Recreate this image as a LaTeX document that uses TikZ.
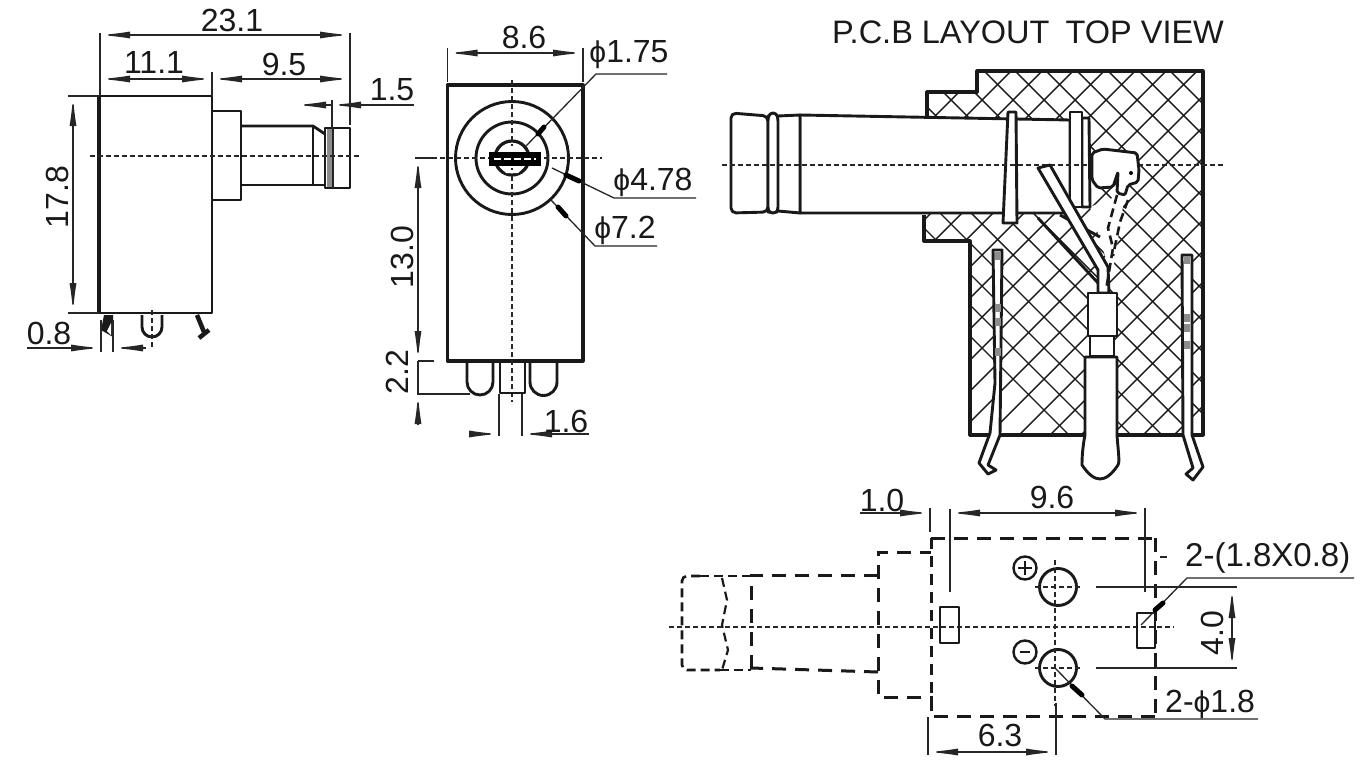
\documentclass[tikz,border=0pt]{standalone}
\usepackage{fontspec}
\setmainfont{Liberation Sans}
\usetikzlibrary{arrows.meta}
\newcommand{\dimfnt}{\fontsize{32}{32}\selectfont}
\newcommand{\phisym}{{\fontsize{30}{30}\selectfont ϕ}}
\tikzset{
 x=1pt,y=-1pt,
 lab/.style={font=\dimfnt,inner sep=0pt,text=black!90},
 part/.style={line width=2.9pt,line join=round,draw=black!90},
 heavy/.style={line width=3.8pt,line join=round,draw=black!90},
 thin/.style={line width=1.3pt,draw=black!85},
 dimline/.style={line width=1.3pt,draw=black!85},
 dimboth/.style={dimline,{Latex[length=30pt,width=7pt]}-{Latex[length=30pt,width=7pt]}},
 dimto/.style={dimline,-{Latex[length=30pt,width=7pt]}},
 centre/.style={line width=1.2pt,draw=black!85,dash pattern=on 5pt off 3pt},
 hatch/.style={line width=1.4pt,draw=black!90},
 blob/.style={line width=5pt,line cap=round,draw=black},
 dashy/.style={line width=3pt,draw=black!90,dash pattern=on 14pt off 9pt},
 dashyfine/.style={line width=2.6pt,draw=black!90,dash pattern=on 9pt off 5pt},
}
\begin{document}
\begin{tikzpicture}
\useasboundingbox (0,0) rectangle (1368,768);
\fill[white] (0,0) rectangle (1368,768);

%% ---------- side view ----------
\draw[part,fill=white] (99,96) rectangle (212,313);
\draw[heavy] (99,96) -- (99,313);
\draw[part] (212,111) -- (241,111) -- (241,200) -- (212,200);
\draw[part] (241,126) -- (313,126) -- (325,134);
\draw[part] (241,185) -- (325,185);
\draw[part] (313,126) -- (313,185);
\fill[black!45] (327,129) rectangle (332,187);
\draw[part] (325,128) rectangle (350,188);
\draw[thin] (333,128) -- (333,188);
\draw[centre] (90,156) -- (360,156);
\fill[black!90] (104,315) -- (113,315) -- (113,337) -- (101,330) -- cycle;
\fill[white] (107,331) -- (111,323) -- (111,335) -- cycle;
\draw[part] (142,315) -- (142,327) arc[start angle=180,end angle=0,radius=10] -- (162,315);
\draw[centre] (152,310) -- (152,348);
\draw[heavy,line width=4.5pt] (197,315) -- (204,332);
\draw[heavy,line width=4.5pt] (199,338) -- (209,330);

\draw[dimline] (100,33) -- (100,96);
\draw[dimline] (350,33) -- (350,125);
\draw[dimline] (212,72) -- (212,96);
\draw[dimboth] (100,35) -- (350,35);
\node[lab] (d231) at (232,20) {23.1};
\draw[dimboth] (100,79) -- (212,79);
\node[lab] (d111) at (154,62) {11.1};
\draw[dimboth] (212,79) -- (350,79);
\node[lab] (d95) at (284,64) {9.5};
\coordinate (p15a) at (296,105);
\coordinate (p15b) at (331,105);
\coordinate (p15c) at (375,105);
\draw[dimline,{Latex[length=30pt,width=7pt]}-] (p15a) -- (p15b);
\draw[dimto] (p15c) -- (p15b);
\draw[dimline] (p15c) -- (414,105);
\draw[dimline] (332,100) -- (332,128);
\node[lab] (d15) at (392,90) {1.5};
\draw[dimline] (68,96) -- (99,96);
\draw[dimline] (68,313) -- (99,313);
\draw[dimboth] (73,96) -- (73,313);
\node[lab,rotate=90] (d178) at (57,197) {17.8};
\draw[dimline] (101,320) -- (101,352);
\draw[dimline] (113,320) -- (113,352);
\draw[dimline] (27,348) -- (68,348);
\draw[dimto] (68,348) -- (101,348);
\draw[dimto] (146,348) -- (113,348);
\node[lab] (d08) at (49,333) {0.8};

%% ---------- front view ----------
\draw[part,line width=3.2pt,fill=white] (447.5,85) rectangle (583,361);
\draw[part] (512,158) circle[radius=56.5];
\draw[part] (512,158) circle[radius=36];
\draw[part,line width=3.2pt] (512,158) circle[radius=17];
\draw[centre] (512,80) -- (512,402);
\draw[centre] (432,158) -- (602,158);
\fill[black] (489,152) rectangle (541,166);
\draw[line width=2pt,white,dash pattern=on 7pt off 3pt] (494,159) -- (536,159);
\fill[white] (503,146) -- (521,146) -- (519,150) -- (505,150) -- cycle;
\fill[white] (503,170) -- (521,170) -- (518,173) -- (506,173) -- cycle;
\draw[part] (467,363) -- (467,382) arc[start angle=180,end angle=0,radius=13] -- (493,363);
\draw[part] (530,363) -- (530,382) arc[start angle=180,end angle=0,radius=13.5] -- (557,363);
\draw[part] (500,363) -- (500,393) -- (525,393) -- (525,363);
\draw[dimline] (447.5,48) -- (447.5,82);
\draw[dimline] (583,48) -- (583,82);
\draw[dimboth] (447.5,53) -- (583,53);
\node[lab] (d86) at (524,37) {8.6};
\node[lab] (d175) at (629,55) {\phisym 1.75};
\draw[dimline] (667,74) -- (596,74) -- (526,146);
\draw[blob] (538,134) -- (544,127);
\node[lab] (d478) at (653,182) {\phisym 4.78};
\draw[dimline] (696,198) -- (614,198) -- (552,168);
\draw[blob] (566,175) -- (579,181);
\node[lab] (d72) at (625,230) {\phisym 7.2};
\draw[dimline] (657,246) -- (595,246) -- (550,199);
\draw[blob] (558,207) -- (566,216);
\draw[dimline] (415,158) -- (435,158);
\draw[dimline] (418,361) -- (434,361);
\draw[dimline] (417,394) -- (470,394);
\draw[dimboth] (418,158) -- (418,361);
\node[lab,rotate=90] (d130) at (402,257) {13.0};
\draw[dimto] (418,425) -- (418,394);
\draw[dimline] (418,394) -- (418,361);
\node[lab,rotate=90] (d22) at (397,372) {2.2};
\draw[dimline] (499,394) -- (499,436);
\draw[dimline] (522,394) -- (522,436);
\draw[dimto] (472,434) -- (499,434);
\draw[dimto] (547,434) -- (522,434);
\draw[dimline] (547,434) -- (589,434);
\node[lab] (d16) at (566,421) {1.6};

%% ---------- section view ----------
\node[lab,anchor=base west,font=\fontsize{32.5}{33}\selectfont] (title) at (832,44) {P.C.B LAYOUT\hspace{7pt} TOP VIEW};
\begin{scope}
 \clip (977,71) -- (1203,71) -- (1203,435) -- (970,435) -- (970,241) -- (924,241) -- (924,215) -- (927,118) -- (927,92) -- (977,92) -- cycle;
 \foreach \k in {0,...,40} {
   \draw[hatch] (634+\k*31,0) -- (634+\k*31+500,500);
   \draw[hatch] (489+\k*31,500) -- (989+\k*31,0);
 }
\end{scope}
\draw[part,line width=3.2pt] (927,118) -- (927,92) -- (977,92) -- (977,71) -- (1203,71) -- (1203,435) -- (970,435) -- (970,241) -- (924,241) -- (924,215);
% plug body
\draw[part,fill=white] (800,115) -- (1070,120) -- (1070,213) -- (800,213) -- cycle;
\draw[part,fill=white] (768,116) -- (778,116) -- (800,115) -- (800,213) -- (778,211) -- (768,212) -- cycle;
\draw[part,fill=white,rounded corners=5pt] (768,116) -- (731,113) -- (731,213) -- (768,212) -- cycle;
\draw[part,fill=white,rounded corners=3pt] (768,118) -- (770,113) -- (776,113) -- (778,118) -- (778,210) -- (776,213) -- (770,213) -- (768,210) -- cycle;
% cavity
\fill[white] (1090,207) -- (1125,193) -- (1112,277) -- (1100,240) -- cycle;
\fill[white] (1083,118) -- (1090,118) -- (1090,207) -- (1083,207) -- cycle;
% rings
\draw[part,fill=white] (1008,112) -- (1016,112) -- (1017,223) -- (1003,223) -- cycle;
\draw[part,fill=white] (1082,118) -- (1089,118) -- (1090,207) -- (1082,207) -- cycle;
\draw[part,fill=white] (1070,112) -- (1082,112) -- (1082,207) -- (1070,207) -- cycle;
\draw[centre] (722,165) -- (1223,165);
% thick edge next to the strip
\draw[part] (1038,218) -- (1098,283);
\draw[part] (1060,215) -- (1100,237);
% angled strip
\draw[part,fill=white] (1038,168) -- (1050,165) -- (1108,267) -- (1109,293) -- (1098,293) -- (1098,270) -- cycle;
% hook
\draw[part,fill=white,rounded corners=2pt] (1092,153) -- (1103,149) -- (1137,153) -- (1139,170) -- (1138,182) -- (1128,185) -- (1125,195) -- (1117,193) -- (1118,172) -- (1113,187) -- (1098,188) -- (1092,180) -- cycle;
\fill[black] (1131,173) circle[radius=2];
\draw[dashyfine] (1117,195) -- (1108,228) -- (1113,248) -- (1106,290);
\draw[dashyfine] (1128,200) -- (1120,222) -- (1113,256);
% crimp and tail
\draw[part,fill=white] (1088,293) rectangle (1117,336);
\draw[part,fill=white] (1090,336) rectangle (1114,356);
\draw[part,fill=white] (1085,357) -- (1117,357) -- (1117,435) .. controls (1118,450) and (1120,462) .. (1118,465) .. controls (1112,474) and (1106,479) .. (1100,479) .. controls (1094,479) and (1088,474) .. (1082,465) .. controls (1082,455) and (1083,445) .. (1085,435) -- cycle;
% pins
\draw[part,fill=white] (993,250) -- (1002,250) -- (1000,435) -- (988,465) -- (996,470) -- (988,474) -- (979,463) -- (990,433) -- (995,383) -- cycle;
\draw[part,fill=white] (1182,255) -- (1192,255) -- (1192,435) -- (1203,467) -- (1193,480) -- (1186,474) -- (1193,468) -- (1183,435) -- cycle;
\foreach \y in {256,308,322,352} {\fill[black!45] (994.5,\y-4) rectangle (1000.5,\y+4);}
\foreach \y in {260,318,328,345} {\fill[black!45] (1184,\y-4) rectangle (1190,\y+4);}

%% ---------- PCB layout ----------
\draw[dashy] (931,538) -- (1155,538);
\draw[dashy] (1155,538) -- (1155,716);
\draw[dashy] (1155,716) -- (931,716) -- (931,697) -- (878,697) -- (878,552) -- (931,552);
\draw[dashy,dash pattern=on 11pt off 7pt] (931,538) -- (931,716);
\draw[dashy] (878,575) -- (751,575) -- (751,672);
\draw[dashy] (878,672) -- (751,668);
\draw[dashyfine,rounded corners=5pt] (700,576) -- (682,576) -- (682,670) -- (720,670);
\draw[dashyfine] (700,576) -- (751,576);
\draw[dashyfine] (720,670) -- (751,670);
\draw[dashyfine,line width=2.2pt] (722,578) -- (727,600) -- (722,625) -- (728,650) -- (722,670);
\draw[centre] (669,627) -- (1174,627);
\draw[part] (940,607) rectangle (959,643);
\draw[part] (1137,613) -- (1155,613) -- (1155,648) -- (1137,648) -- cycle;
\draw[part] (1058,587) circle[radius=18.5];
\draw[part] (1058,668) circle[radius=18.5];
\draw[centre] (1055,560) -- (1055,706);
\draw[centre] (1035,587) -- (1082,587);
\draw[centre] (1035,668) -- (1082,668);
\draw[dimline] (1096,587) -- (1237,587);
\draw[dimline] (1096,668) -- (1237,668);
\draw[part,line width=2.4pt] (1025,568) circle[radius=11.5];
\draw[part,line width=2.4pt] (1018,568) -- (1032,568) (1025,561) -- (1025,575);
\draw[part,line width=2.4pt] (1025,652) circle[radius=11.5];
\draw[part,line width=2.4pt] (1020,652) -- (1030,652);
\draw[dimline] (1160,557) -- (1167,557);
\draw[dimline] (930,508) -- (930,532);
\draw[dimline] (950,509) -- (950,592);
\draw[dimline] (1145,508) -- (1145,592);
\draw[dimline] (860,513) -- (903,513);
\draw[dimto] (903,513) -- (930,513);
\draw[dimboth] (950,513) -- (1145,513);
\node[lab] (d10) at (882,500) {1.0};
\node[lab] (d96) at (1052,497) {9.6};
\node[lab,anchor=west,font=\fontsize{33}{33}\selectfont] (d18x) at (1185,558) {2-(1.8X0.8)};
\draw[dimline] (1354,578) -- (1187,578) -- (1141,625);
\draw[blob] (1155,610) -- (1163,603);
\draw[dimboth] (1232,588) -- (1232,668);
\node[lab,rotate=90] (d40) at (1212,633) {4.0};
\node[lab,anchor=west] (d18) at (1165,704) {2-\phisym 1.8};
\draw[dimline] (1258,719) -- (1105,719) -- (1055,668);
\draw[blob] (1072,686) -- (1082,695);
\draw[dimline] (928,717) -- (928,755);
\draw[dimline] (1056,703) -- (1056,755);
\draw[dimboth] (928,752) -- (1056,752);
\node[lab] (d63) at (1000,735) {6.3};
\end{tikzpicture}
\end{document}
